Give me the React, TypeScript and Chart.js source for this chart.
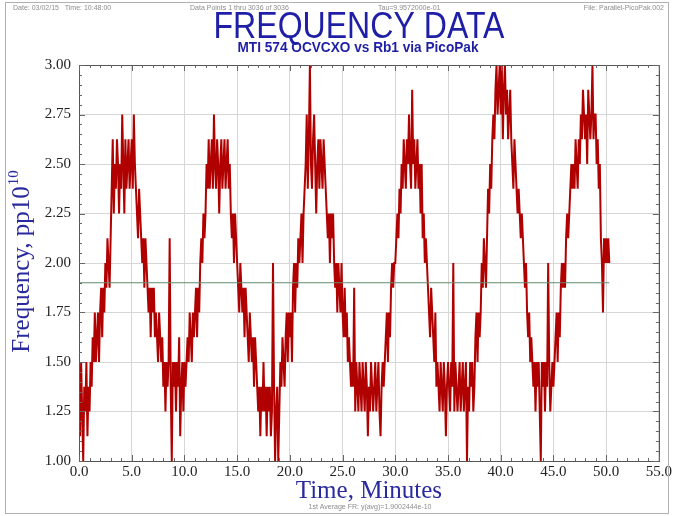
import React, { useEffect, useRef } from 'react';
import { Chart, registerables } from 'chart.js';

Chart.register(...registerables);

// ---------- texts ----------
const TITLE = 'FREQUENCY DATA';
const SUBTITLE = 'MTI 574 OCVCXO vs Rb1 via PicoPak';
const HEADER_DATE = 'Date: 03/02/15   Time: 10:48:00';
const HEADER_POINTS = 'Data Points 1 thru 3036 of 3036';
const HEADER_TAU = 'Tau=9.9572000e-01';
const HEADER_FILE = 'File: Parallel-PicoPak.002';
const FOOTER = '1st Average FR: y(avg)=1.9002444e-10';
const X_TITLE = 'Time, Minutes';
const Y_TITLE = 'Frequency, pp10';
const Y_TITLE_EXP = '10';

// ---------- axes ----------
const X_MIN = 0;
const X_MAX = 55;
const X_STEP = 5;
const X_MINOR = 1;
const Y_MIN = 1;
const Y_MAX = 3;
const Y_STEP = 0.25;
const Y_MINOR = 0.05;

// ---------- data ----------
// one sample every 0.1 minute; values are quantised levels: freq = 1.0 + level * 0.125 (pp10^10)
const SAMPLE_STEP_MIN = 0.1;
const LEVEL_BASE = 1.0;
const LEVEL_STEP = 0.125;
const AVERAGE_FREQ = 1.9002444;

const levelsMin00to09 = [
  3, 1, 4, 2, 0, 3, 2, 4, 1, 3,
  2, 4, 3, 5, 4, 6, 4, 5, 6, 4,
  6, 7, 5, 7, 6, 8, 7, 9, 8, 7,
  9, 11, 13, 10, 12, 11, 13, 12, 10, 12,
  11, 14, 12, 10, 13, 11, 12, 13, 11, 12,
  13, 11, 14, 12, 11, 10, 9, 11, 10, 9,
  8, 9, 7, 9, 8, 7, 6, 7, 5, 7,
  6, 7, 5, 6, 5, 4, 6, 5, 4, 5,
  3, 4, 2, 4, 3, 4, 9, 3, 0, 4,
  3, 4, 2, 4, 3, 5, 1, 3, 4, 2,
];
const levelsMin10to19 = [
  4, 3, 4, 5, 4, 6, 5, 4, 6, 5,
  6, 7, 5, 7, 6, 8, 9, 8, 10, 9,
  10, 12, 11, 13, 11, 12, 13, 11, 14, 12,
  11, 13, 12, 10, 12, 13, 11, 12, 13, 11,
  12, 13, 11, 12, 10, 9, 10, 8, 10, 9,
  8, 7, 6, 8, 7, 6, 7, 5, 7, 6,
  5, 4, 6, 5, 4, 5, 3, 5, 4, 3,
  2, 3, 1, 3, 2, 4, 2, 3, 1, 3,
  2, 3, 1, 2, 8, 3, 0, 2, 3, 0,
  2, 4, 3, 5, 4, 3, 5, 6, 4, 6,
];
const levelsMin20to29 = [
  5, 6, 4, 7, 8, 6, 8, 7, 9, 8,
  9, 10, 8, 10, 11, 12, 14, 11, 13, 16,
  12, 11, 13, 14, 12, 10, 12, 13, 11, 13,
  12, 11, 13, 12, 11, 10, 9, 10, 8, 10,
  9, 10, 8, 7, 8, 6, 8, 7, 6, 8,
  6, 5, 7, 5, 6, 4, 5, 4, 3, 4,
  3, 7, 2, 4, 3, 2, 4, 3, 2, 4,
  3, 2, 4, 3, 1, 3, 2, 4, 3, 2,
  3, 4, 2, 3, 4, 2, 1, 3, 4, 3,
  4, 5, 6, 4, 6, 5, 7, 8, 7, 8,
];
const levelsMin30to39 = [
  8, 9, 10, 9, 11, 10, 12, 11, 13, 12,
  11, 13, 12, 14, 12, 11, 15, 12, 13, 11,
  12, 13, 11, 12, 10, 12, 9, 10, 8, 9,
  8, 7, 6, 5, 7, 6, 5, 4, 6, 3,
  4, 3, 2, 4, 3, 2, 4, 3, 1, 3,
  4, 3, 2, 4, 3, 8, 2, 4, 3, 2,
  3, 4, 2, 3, 4, 2, 3, 4, 0, 3,
  2, 4, 3, 4, 2, 3, 5, 6, 4, 6,
  5, 6, 8, 7, 9, 8, 7, 9, 11, 10,
  12, 11, 13, 14, 13, 15, 16, 14, 15, 16,
];
const levelsMin40to50 = [
  14, 16, 13, 15, 16, 14, 15, 13, 14, 15,
  13, 12, 11, 13, 12, 11, 10, 11, 10, 9,
  10, 9, 8, 7, 8, 6, 5, 6, 4, 5,
  4, 3, 4, 2, 4, 3, 4, 2, 0, 4,
  3, 4, 2, 4, 3, 8, 4, 2, 3, 4,
  3, 4, 5, 6, 4, 6, 5, 7, 8, 7,
  8, 7, 9, 10, 9, 10, 11, 12, 11, 12,
  11, 13, 12, 11, 13, 12, 14, 13, 15, 14,
  13, 14, 12, 15, 14, 13, 14, 16, 13, 14,
  14, 12, 13, 11, 12, 9, 8, 6, 9, 8,
  9, 8, 9, 8,
];

const allLevels = [
  ...levelsMin00to09,
  ...levelsMin10to19,
  ...levelsMin20to29,
  ...levelsMin30to39,
  ...levelsMin40to50,
];
const freqPoints = allLevels.map((k, i) => ({
  x: Math.round(i * SAMPLE_STEP_MIN * 100) / 100,
  y: LEVEL_BASE + k * LEVEL_STEP,
}));
const lastTime = freqPoints[freqPoints.length - 1].x;
const averagePoints = [
  { x: 0, y: AVERAGE_FREQ },
  { x: lastTime, y: AVERAGE_FREQ },
];

// ---------- styles ----------
const BLUE = '#1e1ea6';
const AXIS_BLUE = '#2a2aa0';
const SERIF = '"Liberation Serif", "Times New Roman", serif';
const SANS = '"Liberation Sans", Arial, sans-serif';

function drawScaledText(ctx: CanvasRenderingContext2D, text: string, cx: number, baseline: number, width: number) {
  const w = ctx.measureText(text).width;
  ctx.save();
  ctx.translate(cx, baseline);
  ctx.scale(width / w, 1);
  ctx.textAlign = 'center';
  ctx.fillText(text, 0, 0);
  ctx.restore();
}

const decorPlugin = {
  id: 'decor',
  afterDraw(chart: any) {
    const ctx: CanvasRenderingContext2D = chart.ctx;
    const { left, right, top, bottom } = chart.chartArea;
    const xs = chart.scales.x;
    const ys = chart.scales.y;
    ctx.save();

    // outer frame
    ctx.strokeStyle = '#b0b0b0';
    ctx.lineWidth = 1;
    ctx.strokeRect(5.5, 2.5, 663, 511);

    // header line
    ctx.fillStyle = '#8c8c8c';
    ctx.font = `7px ${SANS}`;
    ctx.textBaseline = 'middle';
    ctx.textAlign = 'left';
    ctx.fillText(HEADER_DATE, 13, 8);
    ctx.fillText(HEADER_POINTS, 190, 8);
    ctx.fillText(HEADER_TAU, 378, 8);
    ctx.textAlign = 'right';
    ctx.fillText(HEADER_FILE, 664, 8);

    // title + subtitle
    ctx.textBaseline = 'alphabetic';
    ctx.fillStyle = BLUE;
    ctx.font = `37px ${SANS}`;
    drawScaledText(ctx, TITLE, 359, 38, 291);
    ctx.font = `bold 14px ${SANS}`;
    drawScaledText(ctx, SUBTITLE, 358, 52, 241);

    // x title
    ctx.fillStyle = AXIS_BLUE;
    ctx.font = `25px ${SERIF}`;
    ctx.textAlign = 'center';
    ctx.fillText(X_TITLE, (left + right) / 2, 498);

    // y title (rotated, with exponent)
    ctx.save();
    ctx.translate(21, 262);
    ctx.rotate(-Math.PI / 2);
    ctx.font = `25px ${SERIF}`;
    const w1 = ctx.measureText(Y_TITLE).width;
    ctx.font = `15px ${SERIF}`;
    const w2 = ctx.measureText(Y_TITLE_EXP).width;
    const start = -(w1 + w2) / 2;
    ctx.textAlign = 'left';
    ctx.font = `25px ${SERIF}`;
    ctx.fillText(Y_TITLE, start, 8);
    ctx.font = `15px ${SERIF}`;
    ctx.fillText(Y_TITLE_EXP, start + w1 + 1, -3);
    ctx.restore();

    // footer
    ctx.fillStyle = '#8c8c8c';
    ctx.font = `7px ${SANS}`;
    ctx.textAlign = 'center';
    ctx.fillText(FOOTER, 370, 509);

    // plot frame
    ctx.strokeStyle = '#555';
    ctx.lineWidth = 1;
    ctx.strokeRect(Math.round(left) + 0.5, Math.round(top) + 0.5, Math.round(right - left), Math.round(bottom - top));

    // ticks
    ctx.beginPath();
    for (let v = X_MIN; v <= X_MAX + 1e-9; v += X_MINOR) {
      const px = Math.round(xs.getPixelForValue(v)) + 0.5;
      const major = Math.abs(v / X_STEP - Math.round(v / X_STEP)) < 1e-6;
      const len = major ? 6 : 3;
      ctx.moveTo(px, bottom);
      ctx.lineTo(px, bottom - len);
      ctx.moveTo(px, top);
      ctx.lineTo(px, top + len);
    }
    for (let v = Y_MIN; v <= Y_MAX + 1e-9; v += Y_MINOR) {
      const py = Math.round(ys.getPixelForValue(v)) + 0.5;
      const major = Math.abs(v / Y_STEP - Math.round(v / Y_STEP)) < 1e-6;
      const len = major ? 6 : 3;
      ctx.moveTo(left, py);
      ctx.lineTo(left + len, py);
      ctx.moveTo(right, py);
      ctx.lineTo(right - len, py);
    }
    ctx.strokeStyle = '#666';
    ctx.stroke();
    ctx.restore();
  },
};

export default function App() {
  const ref = useRef<HTMLCanvasElement>(null);
  useEffect(() => {
    const canvas = ref.current;
    if (!canvas) return;
    const chart = new Chart(canvas, {
      type: 'line',
      data: {
        datasets: [
          {
            label: 'Average',
            data: averagePoints,
            borderColor: '#5f8d70',
            borderWidth: 1,
            pointRadius: 0,
            tension: 0,
          },
          {
            label: 'Frequency',
            data: freqPoints,
            borderColor: '#b00000',
            borderWidth: 2,
            pointRadius: 0,
            tension: 0,
          },
        ],
      },
      options: {
        animation: false,
        responsive: false,
        maintainAspectRatio: false,
        devicePixelRatio: 1,
        parsing: false as any,
        layout: { padding: { left: 0, right: 14, top: 65, bottom: 0 } },
        plugins: {
          legend: { display: false },
          title: { display: false },
          tooltip: { enabled: false },
        },
        scales: {
          x: {
            type: 'linear',
            min: X_MIN,
            max: X_MAX,
            ticks: {
              stepSize: X_STEP,
              autoSkip: false,
              maxRotation: 0,
              padding: 2,
              color: '#222',
              font: { family: SERIF, size: 15 },
              callback: (v: any) => Number(v).toFixed(1),
            },
            grid: { color: '#d6d6d6', drawTicks: false },
            border: { display: false },
            afterFit: (s: any) => {
              s.height = 55;
            },
          },
          y: {
            type: 'linear',
            min: Y_MIN,
            max: Y_MAX,
            ticks: {
              stepSize: Y_STEP,
              padding: 8,
              color: '#222',
              font: { family: SERIF, size: 15 },
              callback: (v: any) => Number(v).toFixed(2),
            },
            grid: { color: '#d6d6d6', drawTicks: false },
            border: { display: false },
            afterFit: (s: any) => {
              s.width = 79;
            },
          },
        },
      },
      plugins: [decorPlugin],
    } as any);
    return () => chart.destroy();
  }, []);

  return (
    <div style={{ position: 'fixed', left: 0, top: 0, width: 674, height: 516, background: '#fff' }}>
      <canvas ref={ref} width={674} height={516} style={{ display: 'block', width: 674, height: 516 }} />
    </div>
  );
}
